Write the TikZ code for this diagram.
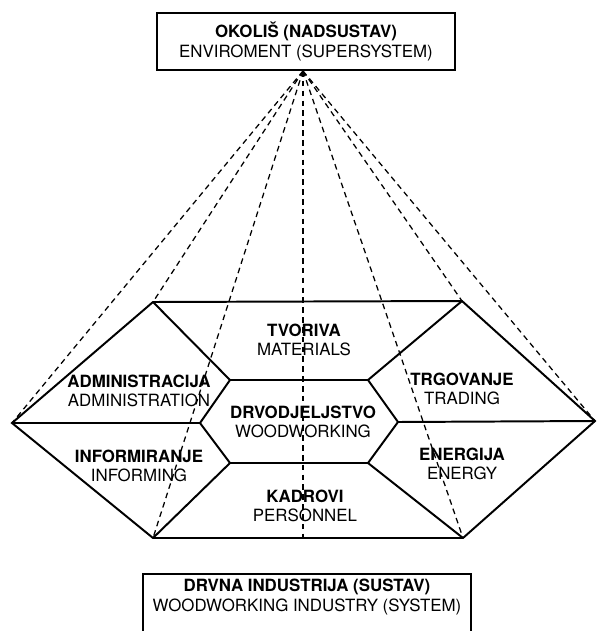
\documentclass[tikz,border=0pt]{standalone}
\usepackage{fontspec}
\setmainfont{TeX Gyre Heros}
\tikzset{
  lab/.style={align=center, font=\fontsize{12}{13.8}\selectfont, inner sep=1pt},
  sysbox/.style={draw, line width=1.4pt, align=center, font=\fontsize{12}{14.5}\selectfont},
  wall/.style={line width=1.4pt, line join=miter},
  ray/.style={dashed, line width=0.9pt, dash pattern=on 4pt off 3pt}
}
\begin{document}
\begin{tikzpicture}[x=0.025cm, y=-0.025cm]
      \useasboundingbox (0,0) rectangle (597,631);
      \clip (0,0) rectangle (597,631);
      % boxes
      \node[sysbox, minimum width=7.45cm, minimum height=1.425cm] (env) at (306,41.5)
        {\textbf{OKOLIŠ (NADSUSTAV)}\\ENVIROMENT (SUPERSYSTEM)};
      \node[sysbox, minimum width=8.2cm, minimum height=1.9cm, anchor=north] (sys) at (307,573)
        {\textbf{DRVNA INDUSTRIJA (SUSTAV)}\\WOODWORKING INDUSTRY (SYSTEM)\\[4ex]};
      % corners
      \coordinate (apex) at (303,71);
      \coordinate (L) at (12,423);
      \coordinate (TL) at (153,302);
      \coordinate (TR) at (462,301);
      \coordinate (R) at (595,421);
      \coordinate (BR) at (463,538);
      \coordinate (B) at (303,538);
      \coordinate (BL) at (153,538);
      \coordinate (iL) at (200,423);
      \coordinate (iTL) at (230,380);
      \coordinate (iTR) at (368,380);
      \coordinate (iR) at (398,422);
      \coordinate (iBR) at (368,463);
      \coordinate (iBL) at (230,463);
      % rays
      \begin{scope}[ray]
        \draw (apex) to (L);
        \draw (apex) to (TL);
        \draw (apex) to (BL);
        \draw (apex) to (B);
        \draw (apex) to (BR);
        \draw (apex) to (TR);
        \draw (apex) to (R);
      \end{scope}
      % hexagons
      \begin{scope}[wall]
        \draw (L) -- (TL) -- (TR) -- (R) -- (BR) -- (BL) -- cycle;
        \draw (iL) -- (iTL) -- (iTR) -- (iR) -- (iBR) -- (iBL) -- cycle;
        \draw (TL) to (iTL);
        \draw (TR) to (iTR);
        \draw (BL) to (iBL);
        \draw (BR) to (iBR);
        \draw (L) to (iL);
        \draw (iR) to (R);
      \end{scope}
      % labels
      \node[lab] (mat) at (304,340) {\textbf{TVORIVA}\\MATERIALS};
      \node[lab] (adm) at (139,391) {\textbf{ADMINISTRACIJA}\\ADMINISTRATION};
      \node[lab] (wood) at (303,422) {\textbf{DRVODJELJSTVO}\\WOODWORKING};
      \node[lab] (inf) at (139,466) {\textbf{INFORMIRANJE}\\INFORMING};
      \node[lab] (trad) at (462,389) {\textbf{TRGOVANJE}\\TRADING};
      \node[lab] (ener) at (462,464) {\textbf{ENERGIJA}\\ENERGY};
      \node[lab] (pers) at (305,506) {\textbf{KADROVI}\\PERSONNEL};
    \end{tikzpicture}
\end{document}
